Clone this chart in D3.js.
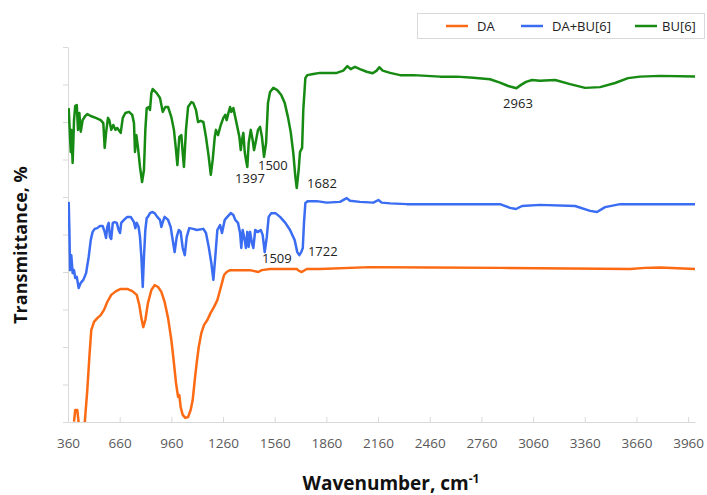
<!DOCTYPE html>
<html>
<head>
<meta charset="utf-8">
<script src="https://cdn.jsdelivr.net/npm/d3@7/dist/d3.min.js"></script>
<style>
    body { margin: 0; background: #fff; }
    svg text { font-family: "Open Sans", "Liberation Sans", sans-serif; }
</style>
</head>
<body>
<div id="chart"></div>
<script>
// wavenumber (cm-1) and transmittance
const daWave = [395, 402, 414, 422, 434, 444, 457, 472, 484, 495, 511, 530, 550, 569, 588, 611, 639, 666, 704, 733, 759, 774, 786, 797, 809, 824, 844, 863, 883, 902, 921, 941, 960, 975, 987, 999, 1006, 1014, 1026, 1041, 1057, 1072, 1084, 1096, 1107, 1119, 1134, 1150, 1169, 1188, 1208, 1227, 1243, 1254, 1266, 1281, 1301, 1339, 1417, 1465, 1485, 1533, 1591, 1688, 1701, 1717, 1746, 1823, 2113, 2462, 2868, 3623, 3710, 3797, 4000];
const daValue = [0.1, 3.2, 3.2, -0.3, -4.0, -4.0, -0.3, 8.5, 17.3, 24.5, 26.7, 27.7, 28.5, 29.9, 32.0, 33.9, 34.9, 35.5, 35.5, 34.9, 33.9, 31.2, 27.7, 25.3, 27.2, 31.7, 35.2, 36.5, 36.0, 34.7, 32.0, 27.7, 21.9, 15.7, 10.4, 6.7, 7.2, 4.0, 1.9, 1.1, 1.3, 3.2, 5.9, 11.2, 15.7, 20.0, 23.7, 25.9, 27.2, 29.1, 30.7, 32.5, 35.2, 37.1, 39.2, 40.0, 40.5, 40.5, 40.5, 40.0, 40.5, 40.8, 40.8, 40.8, 40.3, 40.0, 40.8, 40.8, 41.3, 41.2, 41.1, 40.8, 41.1, 41.2, 40.8];

const mixWave = [364, 368, 372, 379, 387, 395, 402, 411, 422, 434, 449, 465, 480, 492, 503, 515, 530, 546, 561, 573, 581, 588, 596, 604, 611, 620, 631, 643, 654, 662, 669, 685, 704, 724, 743, 751, 759, 770, 778, 786, 794, 801, 809, 817, 824, 836, 848, 863, 878, 894, 902, 910, 921, 941, 956, 968, 979, 991, 1003, 1014, 1026, 1038, 1049, 1064, 1087, 1107, 1146, 1161, 1177, 1192, 1204, 1215, 1227, 1243, 1254, 1270, 1285, 1305, 1320, 1331, 1347, 1359, 1366, 1374, 1386, 1393, 1401, 1409, 1417, 1428, 1436, 1447, 1463, 1479, 1490, 1502, 1514, 1525, 1540, 1564, 1591, 1622, 1649, 1676, 1691, 1703, 1714, 1723, 1730, 1738, 1753, 1804, 1862, 1939, 1978, 1997, 2055, 2133, 2162, 2181, 2230, 2327, 2520, 2868, 2926, 2961, 2996, 3100, 3304, 3391, 3431, 3478, 3565, 4000];
const mixValue = [58.7, 51.2, 40.5, 44.5, 39.7, 40.5, 38.4, 38.7, 35.7, 37.1, 37.9, 39.7, 44.0, 48.5, 50.7, 51.5, 51.7, 52.3, 52.3, 50.7, 49.1, 52.0, 53.1, 49.3, 48.8, 53.1, 53.3, 53.1, 51.2, 50.4, 53.1, 53.9, 54.7, 54.7, 53.3, 51.7, 53.1, 52.0, 49.3, 44.0, 36.0, 44.0, 51.2, 54.4, 54.7, 55.7, 56.0, 55.7, 54.7, 53.9, 52.0, 53.3, 54.7, 53.9, 52.0, 48.5, 45.3, 49.3, 51.2, 50.7, 46.4, 44.5, 49.3, 51.7, 51.5, 51.2, 51.5, 50.4, 46.7, 42.4, 37.9, 44.0, 51.2, 52.5, 50.4, 53.9, 54.7, 55.7, 55.2, 53.9, 53.1, 50.4, 46.4, 51.2, 48.5, 46.4, 50.7, 46.7, 50.7, 47.7, 46.4, 51.2, 50.7, 51.2, 49.9, 45.3, 49.3, 54.7, 55.7, 55.7, 54.7, 53.1, 51.2, 48.5, 45.3, 44.5, 45.3, 46.4, 53.1, 58.4, 58.9, 58.9, 58.5, 58.7, 59.7, 59.0, 58.7, 58.5, 59.2, 58.5, 58.3, 58.1, 58.1, 58.1, 57.1, 56.8, 57.6, 57.9, 57.6, 56.3, 56.0, 57.3, 58.1, 58.1];

const buWave = [364, 368, 376, 379, 387, 395, 402, 411, 418, 426, 434, 445, 460, 472, 492, 521, 550, 565, 573, 581, 592, 600, 611, 623, 635, 646, 666, 678, 693, 714, 733, 743, 749, 757, 766, 778, 790, 801, 809, 817, 829, 836, 844, 852, 875, 894, 910, 925, 941, 960, 975, 987, 995, 1006, 1018, 1026, 1033, 1045, 1057, 1076, 1087, 1103, 1115, 1130, 1146, 1161, 1177, 1189, 1200, 1212, 1219, 1231, 1247, 1262, 1273, 1281, 1293, 1301, 1308, 1320, 1331, 1343, 1355, 1363, 1370, 1378, 1386, 1393, 1401, 1409, 1421, 1432, 1440, 1452, 1463, 1475, 1486, 1498, 1510, 1521, 1533, 1552, 1575, 1598, 1618, 1637, 1653, 1668, 1680, 1688, 1699, 1707, 1719, 1726, 1738, 1749, 1784, 1823, 1841, 1920, 1958, 1982, 2001, 2026, 2055, 2094, 2129, 2152, 2167, 2187, 2230, 2288, 2365, 2443, 2520, 2617, 2713, 2810, 2868, 2916, 2963, 2990, 3019, 3054, 3100, 3188, 3275, 3362, 3449, 3536, 3611, 3681, 3797, 4000];
const buValue = [83.7, 79.7, 72.0, 77.9, 69.1, 80.5, 84.3, 84.5, 77.9, 82.4, 77.4, 80.5, 81.6, 82.1, 81.6, 81.1, 80.5, 79.7, 73.1, 77.1, 81.1, 80.5, 77.9, 79.2, 77.9, 78.4, 77.1, 81.1, 82.4, 82.7, 81.9, 79.7, 72.0, 76.5, 73.3, 68.0, 64.0, 67.2, 77.9, 83.7, 84.0, 83.2, 87.7, 88.8, 87.7, 86.4, 82.7, 84.0, 84.0, 81.3, 77.9, 72.5, 68.5, 76.0, 76.5, 71.7, 68.0, 77.9, 84.0, 85.3, 85.1, 83.2, 80.0, 80.3, 80.0, 76.0, 70.7, 65.9, 69.9, 76.0, 77.9, 76.5, 79.2, 81.1, 81.9, 80.5, 82.7, 84.0, 82.7, 83.7, 81.3, 78.7, 76.0, 72.5, 75.2, 77.1, 72.0, 69.9, 68.0, 74.4, 77.9, 75.2, 72.5, 75.2, 77.9, 78.7, 76.0, 70.7, 74.4, 85.1, 88.0, 89.1, 88.5, 87.2, 85.1, 81.3, 77.3, 71.7, 65.3, 62.4, 67.2, 72.0, 73.1, 83.2, 91.7, 92.5, 92.8, 93.1, 93.1, 93.1, 93.7, 94.9, 94.1, 94.7, 94.1, 93.4, 93.0, 93.7, 94.6, 93.7, 93.1, 92.5, 92.5, 92.3, 92.1, 92.1, 91.8, 91.4, 90.5, 89.6, 89.0, 89.9, 90.7, 91.2, 91.0, 91.2, 90.1, 89.1, 89.3, 90.4, 91.7, 92.1, 92.3, 92.1];

const seriesNames = ["DA", "DA+BU[6]", "BU[6]"];
const seriesColors = ["#fc6a13", "#3b6df2", "#168a12"];

const xTicks = [360, 660, 960, 1260, 1560, 1860, 2160, 2460, 2760, 3060, 3360, 3660, 3960];

// peak labels: text, wavenumber / transmittance where the label sits
const peakLabels = ["1397", "1500", "1682", "2963", "1509", "1722"];
const peakLabelWave = [1330, 1463, 1748, 2886, 1486, 1753];
const peakLabelValue = [63.7, 67.2, 62.4, 83.7, 42.4, 44.3];

const WIDTH = 707, HEIGHT = 495;
const margin = {left: 68, right: 12, top: 47, bottom: 73};

const svg = d3.select("#chart").append("svg")
    .attr("width", WIDTH).attr("height", HEIGHT);

const x = d3.scaleLinear().domain([360, 4000]).range([margin.left, WIDTH - margin.right]);
const y = d3.scaleLinear().domain([0, 100]).range([HEIGHT - margin.bottom, margin.top]);

svg.append("clipPath").attr("id", "plot-clip")
    .append("rect")
    .attr("x", x(360)).attr("y", y(100))
    .attr("width", x(4000) - x(360)).attr("height", y(0) - y(100));

// x axis, ticks pointing up
const xAxis = svg.append("g")
    .attr("transform", `translate(0,${y(0)})`)
    .call(d3.axisBottom(x).tickValues(xTicks).tickFormat(d3.format("d"))
        .tickSizeInner(-5).tickSizeOuter(0).tickPadding(16));
xAxis.select(".domain").attr("stroke", "#d9d9d9");
xAxis.selectAll(".tick line").attr("stroke", "#d9d9d9");
xAxis.selectAll(".tick text").attr("fill", "#595959").style("font-size", "13.5px");

// y axis without labels
const yAxis = svg.append("g")
    .attr("transform", `translate(${x(360)},0)`)
    .call(d3.axisLeft(y).ticks(10).tickSizeInner(5).tickSizeOuter(0).tickFormat(""));
yAxis.select(".domain").attr("stroke", "#d9d9d9");
yAxis.selectAll(".tick line").attr("stroke", "#d9d9d9");

const line = d3.line().x(d => x(d[0])).y(d => y(d[1]));

const allSeries = [
    d3.zip(daWave, daValue),
    d3.zip(mixWave, mixValue),
    d3.zip(buWave, buValue)
];

const plot = svg.append("g").attr("clip-path", "url(#plot-clip)");
allSeries.forEach((data, i) => {
    plot.append("path")
        .datum(data)
        .attr("d", line)
        .attr("fill", "none")
        .attr("stroke", seriesColors[i])
        .attr("stroke-width", 2.5)
        .attr("stroke-linejoin", "round");
});

// peak labels
peakLabels.forEach((label, i) => {
    svg.append("text")
        .attr("x", x(peakLabelWave[i]))
        .attr("y", y(peakLabelValue[i]))
        .attr("fill", "#222")
        .style("font-size", "13px")
        .text(label);
});

// axis titles
svg.append("text")
    .attr("x", 391).attr("y", 490)
    .attr("text-anchor", "middle")
    .style("font-size", "19px").style("font-weight", "bold")
    .attr("fill", "#111")
    .text("Wavenumber, cm")
    .append("tspan")
    .attr("dy", -7).style("font-size", "12px")
    .text("-1");

svg.append("text")
    .attr("transform", "translate(27,245) rotate(-90)")
    .attr("text-anchor", "middle")
    .style("font-size", "18px").style("font-weight", "bold")
    .attr("fill", "#111")
    .text("Transmittance, %");

// legend
const legend = svg.append("g");
legend.append("rect")
    .attr("x", 417.5).attr("y", 13.5).attr("width", 287).attr("height", 25)
    .attr("fill", "#fff").attr("stroke", "#d9d9d9");
const legendX = [446, 521, 635];
seriesNames.forEach((name, i) => {
    legend.append("line")
        .attr("x1", legendX[i]).attr("x2", legendX[i] + 22)
        .attr("y1", 26).attr("y2", 26)
        .attr("stroke", seriesColors[i]).attr("stroke-width", 2.5);
    legend.append("text")
        .attr("x", legendX[i] + (i === 2 ? 27 : 31)).attr("y", 30.5)
        .attr("fill", "#222")
        .style("font-size", "13px")
        .text(name);
});
</script>
</body>
</html>
